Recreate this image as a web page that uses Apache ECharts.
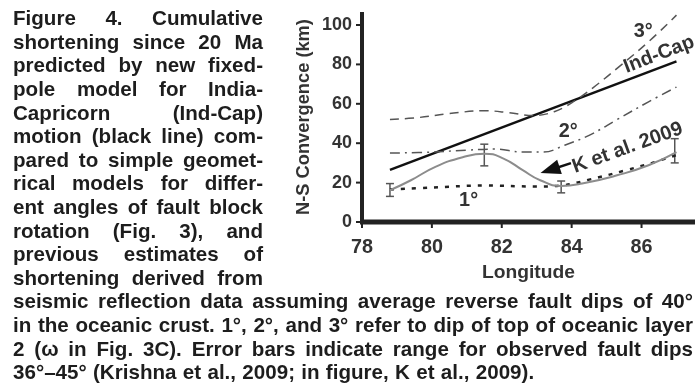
<!DOCTYPE html>
<html>
<head>
<meta charset="utf-8">
<script src="https://cdn.jsdelivr.net/npm/echarts@6/dist/echarts.min.js"></script>
<style>
  html, body { margin: 0; padding: 0; background: #fff; }
  #chart { width: 699px; height: 391px; }
</style>
</head>
<body>
<div id="chart"></div>
<script>
// N-S convergence (km) against longitude (deg E)
const xTicks = [78, 80, 82, 84, 86];
const yTicks = [0, 20, 40, 60, 80, 100];

const indCapLon = [78.8, 87.0];
const indCapKm = [26.5, 81.5];

const dip3Lon = [78.8, 79.6, 80.5, 81.5, 82.2, 82.9, 83.5, 84.0, 84.6, 85.3, 86.2, 87.0];
const dip3Km = [52, 53, 55, 56.5, 55.5, 54, 56, 60.5, 68, 78, 91.5, 105];

const dip2Lon = [78.8, 80.0, 81.0, 81.8, 82.6, 83.2, 83.8, 84.5, 85.3, 86.2, 87.0];
const dip2Km = [35, 35.5, 36.5, 37, 35.5, 35.5, 39, 44, 52, 61, 68.5];

const dip1Lon = [78.8, 80.0, 81.5, 83.0, 83.7, 84.5, 85.5, 86.3, 87.0];
const dip1Km = [16.5, 17.5, 18.5, 18, 18.5, 21.5, 26, 30, 34];

const kLon = [78.8, 79.4, 80.1, 80.9, 81.5, 82.05, 82.6, 83.1, 83.7, 84.3, 85.3, 86.2, 87.0];
const kKm = [16.1, 21.2, 28, 33, 34.7, 32.2, 26.3, 21.2, 18.3, 19.5, 23.7, 28.8, 35.5];

const errLon = [78.8, 81.5, 83.7, 86.95];
const errLow = [13, 28.5, 14.8, 30];
const errHigh = [19.5, 39.5, 20.8, 42.3];

const leftLines = [
  'Figure 4. Cumulative',
  'shortening since 20 Ma',
  'predicted by new fixed-',
  'pole model for India-',
  'Capricorn (Ind-Cap)',
  'motion (black line) com-',
  'pared to simple geomet-',
  'rical models for differ-',
  'ent angles of fault block',
  'rotation (Fig. 3), and',
  'previous estimates of',
  'shortening derived from'
];
const bottomLines = [
  'seismic reflection data assuming average reverse fault dips of 40°',
  'in the oceanic crust. 1°, 2°, and 3° refer to dip of top of oceanic layer',
  '2 (ω in Fig. 3C). Error bars indicate range for observed fault dips',
  '36°–45° (Krishna et al., 2009; in figure, K et al., 2009).'
];

const X_MIN = 78, X_MAX = 87.53, Y_MIN = 0, Y_MAX = 106.6;

const zip = (a, b) => a.map((v, i) => [v, b[i]]);

const FONT = '"Liberation Sans", Arial, Helvetica, sans-serif';
const ctx = document.createElement('canvas').getContext('2d');
// font size that gives a sample string the width it has in the figure
function fitSize(sample, targetW) {
  ctx.font = 'bold 100px ' + FONT;
  return 100 * targetW / ctx.measureText(sample).width;
}

const Y_LABEL = fitSize('100', 30);
const X_LABEL = fitSize('78', 22);
const NOTE = fitSize('1°', 19);

const chart = echarts.init(document.getElementById('chart'), null, { renderer: 'canvas' });
const axisText = { color: '#333', fontFamily: FONT, fontWeight: 'bold' };

const option = {
  animation: false,
  backgroundColor: '#fff',
  grid: { left: 362, right: 4, top: 12, bottom: 169, outerBoundsMode: 'none' },
  xAxis: {
    type: 'value', min: X_MIN, max: X_MAX, interval: 2,
    name: 'Longitude', nameLocation: 'middle', nameGap: 32,
    nameTextStyle: Object.assign({ fontSize: fitSize('Longitude', 93) }, axisText),
    axisLine: { show: false },
    axisTick: { show: false },
    axisLabel: Object.assign({ fontSize: X_LABEL, margin: 16, customValues: xTicks }, axisText),
    splitLine: { show: false }
  },
  yAxis: {
    type: 'value', min: Y_MIN, max: Y_MAX, interval: 20,
    name: 'N-S Convergence (km)', nameLocation: 'middle', nameGap: 49,
    nameTextStyle: Object.assign({ fontSize: fitSize('N-S Convergence (km)', 196) }, axisText),
    axisLine: { show: false },
    axisTick: { show: false },
    axisLabel: Object.assign({ fontSize: Y_LABEL, margin: 10, customValues: yTicks }, axisText),
    splitLine: { show: false }
  },
  series: [
    {
      name: 'Ind-Cap', type: 'line', data: zip(indCapLon, indCapKm), symbol: 'none',
      lineStyle: { color: '#111', width: 2.5 }
    },
    {
      name: '3°', type: 'line', data: zip(dip3Lon, dip3Km), symbol: 'none', smooth: 0.4,
      lineStyle: { color: '#555', width: 1.5, type: [9, 6] }
    },
    {
      name: '2°', type: 'line', data: zip(dip2Lon, dip2Km), symbol: 'none', smooth: 0.4,
      lineStyle: { color: '#555', width: 1.5, type: [10, 5, 2, 5] }
    },
    {
      name: '1°', type: 'line', data: zip(dip1Lon, dip1Km), symbol: 'none', smooth: 0.4,
      lineStyle: { color: '#222', width: 2.5, type: [4, 7] }
    },
    {
      name: 'K et al. 2009', type: 'line', data: zip(kLon, kKm), symbol: 'none', smooth: true,
      lineStyle: { color: '#8c8c8c', width: 2 },
      markLine: {
        silent: true, animation: false,
        symbol: ['none', 'triangle'], symbolSize: [15, 20],
        lineStyle: { color: '#111', width: 2.5, type: 'solid' },
        label: { show: false },
        data: [[{ coord: [83.98, 29.9] }, { coord: [83.38, 26.4] }]]
      }
    },
    {
      name: 'error', type: 'custom',
      data: errLon.map((v, i) => [v, errLow[i], errHigh[i]]),
      encode: { x: 0, y: [1, 2] },
      renderItem: function (params, api) {
        const lo = api.coord([api.value(0), api.value(1)]);
        const hi = api.coord([api.value(0), api.value(2)]);
        const st = { stroke: '#555', lineWidth: 1.5 };
        const w = 4;
        return {
          type: 'group',
          children: [
            { type: 'line', shape: { x1: lo[0], y1: lo[1], x2: hi[0], y2: hi[1] }, style: st },
            { type: 'line', shape: { x1: lo[0] - w, y1: lo[1], x2: lo[0] + w, y2: lo[1] }, style: st },
            { type: 'line', shape: { x1: hi[0] - w, y1: hi[1], x2: hi[0] + w, y2: hi[1] }, style: st }
          ]
        };
      }
    }
  ]
};
chart.setOption(option);

const toPx = (lon, km) => chart.convertToPixel({ gridIndex: 0 }, [lon, km]);

// heavy axis frame and outward ticks, placed through the axis scales
function axesFrame() {
  const o = toPx(X_MIN, Y_MIN), xe = toPx(X_MAX, Y_MIN), ye = toPx(X_MIN, Y_MAX);
  const ink = '#222';
  const els = [
    { type: 'rect', z: 100, shape: { x: o[0] - 2, y: o[1] - 2.5, width: xe[0] - o[0] + 2, height: 5 }, style: { fill: ink } },
    { type: 'rect', z: 100, shape: { x: o[0] - 2, y: ye[1], width: 4, height: o[1] - ye[1] }, style: { fill: ink } }
  ];
  xTicks.forEach(function (v) {
    const p = toPx(v, Y_MIN);
    els.push({ type: 'rect', z: 100, shape: { x: p[0] - 1, y: p[1] + 2, width: 2, height: 4 }, style: { fill: ink } });
  });
  yTicks.forEach(function (v) {
    const p = toPx(X_MIN, v);
    els.push({ type: 'rect', z: 100, shape: { x: p[0] - 6, y: p[1] - 1, width: 5, height: 2 }, style: { fill: ink } });
  });
  return els;
}

// justified caption, word by word
const STRETCH = 1.05, LINE_H = 23.6, FIRST_BASE = 26.7;
const CAP_SIZE = fitSize('seismic reflection', 174 / STRETCH);
const capFont = 'bold ' + CAP_SIZE.toFixed(2) + 'px ' + FONT;

function captionWords(lines, x0, x1, firstRow) {
  ctx.font = capFont;
  const out = [];
  lines.forEach(function (line, i) {
    const words = line.split(' ');
    const widths = words.map(w => ctx.measureText(w).width * STRETCH);
    const total = widths.reduce((a, b) => a + b, 0);
    const isLast = firstRow > 0 && i === lines.length - 1;
    let gap = isLast ? ctx.measureText(' ').width * STRETCH * 1.1 : (x1 - x0 - total) / (words.length - 1);
    let scale = STRETCH;
    if (gap < 3) { gap = 3; scale = STRETCH * (x1 - x0 - 3 * (words.length - 1)) / total; }
    let x = x0;
    const y = FIRST_BASE + (firstRow + i) * LINE_H;
    words.forEach(function (w, k) {
      out.push({
        type: 'text', x: x, y: y - CAP_SIZE * 0.35, scaleX: scale,
        style: { text: w, x: 0, y: 0, font: capFont, fill: '#1d1d1d', verticalAlign: 'middle' }
      });
      x += widths[k] / STRETCH * scale + gap;
    });
  });
  return out;
}

// curve labels, anchored in data space
function note(text, lon, km, rotDeg, size) {
  const p = toPx(lon, km);
  return {
    type: 'text', x: p[0], y: p[1], rotation: rotDeg * Math.PI / 180,
    style: {
      text: text, x: 0, y: 0, align: 'center', verticalAlign: 'middle',
      font: 'bold ' + size.toFixed(2) + 'px ' + FONT, fill: '#333'
    }
  };
}

const graphics = []
  .concat(axesFrame())
  .concat(captionWords(leftLines, 13, 263, 0))
  .concat(captionWords(bottomLines, 13, 693, 12))
  .concat([
    note('3°', 86.05, 96.6, 0, NOTE),
    note('Ind-Cap', 86.5, 85.0, 21, fitSize('Ind-Cap', 74)),
    note('2°', 83.9, 45.8, 0, NOTE),
    note('1°', 81.05, 11, 0, NOTE),
    note('K et al. 2009', 85.6, 37.6, 20, fitSize('K et al. 2009', 116))
  ]);

chart.setOption({ graphic: graphics });
</script>
</body>
</html>
